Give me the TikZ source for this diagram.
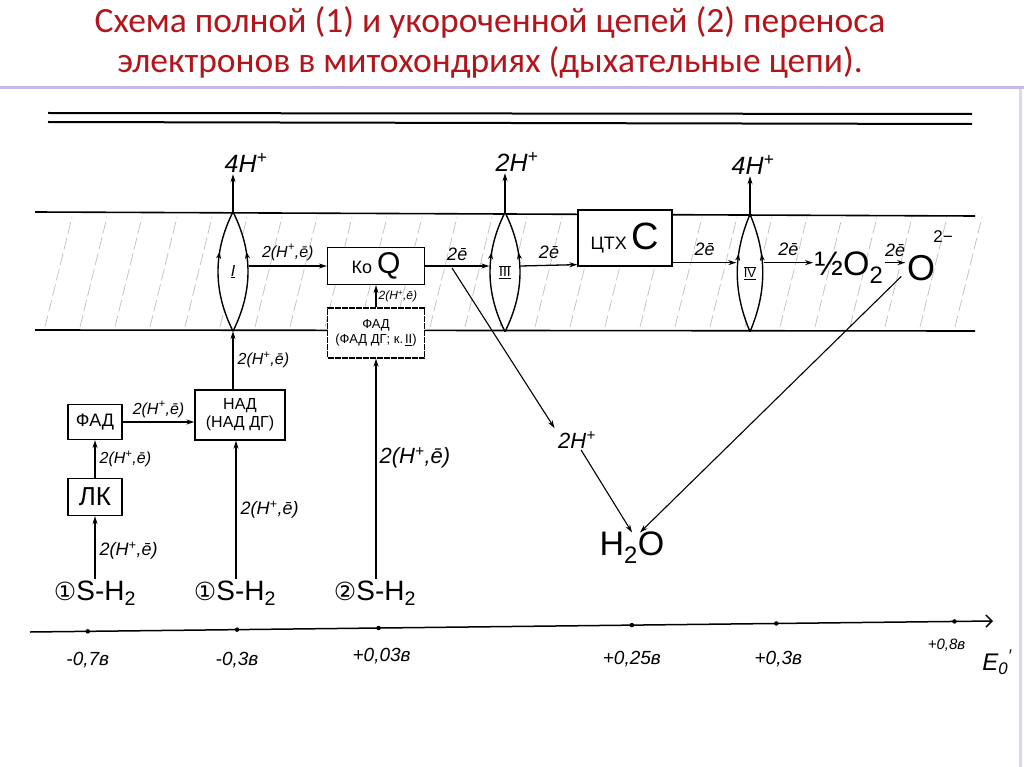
\documentclass[tikz,border=0pt]{standalone}
\usepackage{fontspec}
\setmainfont{Liberation Sans}
\newfontfamily\titlefont{Carlito}
\newfontfamily\dejavu{DejaVu Sans}
\usetikzlibrary{arrows.meta,decorations.markings,calc,positioning}
\definecolor{titlered}{RGB}{178,22,28}
\definecolor{lav}{RGB}{200,185,228}
\newcommand{\HpE}{2(H\textsuperscript{+},ē)}
\newcommand{\Hp}[1]{#1H\textsuperscript{+}}
\begin{document}
\begin{tikzpicture}[x=1pt,y=-1pt,line width=1.3pt,
  >={Stealth[length=8pt,width=5pt]},
  box/.style={draw,fill=white,line width=1.3pt,inner sep=1pt,align=center},
  lens/.style={minimum width=30pt,minimum height=118pt,inner sep=0pt},
  lensarc/.style={line width=1.4pt,postaction={decorate},
    decoration={markings,mark=at position 0.66 with {\arrow{Stealth[length=7pt,width=5pt]}}}},
  lbl/.style={font=\itshape\fontsize{16}{17}\selectfont,inner sep=1pt},
  blbl/.style={font=\itshape\fontsize{18}{19}\selectfont,inner sep=1pt},
  elbl/.style={font=\itshape\fontsize{18}{19}\selectfont,inner sep=1pt},
  hlbl/.style={font=\itshape\fontsize{25}{26}\selectfont,inner sep=1pt},
  slbl/.style={font=\fontsize{28}{30}\selectfont,inner sep=1pt},
  axlbl/.style={font=\itshape\fontsize{19}{20}\selectfont,inner sep=1pt},
  hatch/.style={gray!50,line width=0.7pt,dash pattern=on 12pt off 4pt},
  dot/.style={circle,fill,inner sep=0pt,minimum size=4.5pt}]
\useasboundingbox (0,0) rectangle (1024,767);
\fill[white] (0,0) rectangle (1024,767);
% title
\node[font=\titlefont\fontsize{35.5}{40}\selectfont,text=titlered,align=center] (title) at (490,42)
  {Схема полной (1) и укороченной цепей (2) переноса\\электронов в митохондриях (дыхательные цепи).};
\draw[lav,line width=3pt] (0,88) -- (1024,88);
\draw[lav!60,line width=3pt] (1020,89) -- (1020,767);
% outer double membrane lines
\draw[line width=2pt] (48,113) -- (972,114);
\draw[line width=2pt] (48,122) -- (972,124);
% inner membrane band
\foreach \x in {45,80,...,960} \draw[hatch] (\x,327) -- (\x+27,217);
\draw[line width=1.6pt] (35,212) -- (975,216);
\draw[line width=1.6pt] (35,330) -- (975,331);
% lenses (complexes)
\node[lens] (L1) at (233,271.5) {};
\node[lens] (L3) at (505,272) {};
\node[lens,minimum width=26pt,minimum height=116pt] (L4) at (750,273) {};
\fill[white] (L1.south) .. controls ($(L1.south)+(-20,-40)$) and ($(L1.north)+(-20,40)$) .. (L1.north)
  .. controls ($(L1.north)+(20,40)$) and ($(L1.south)+(20,-40)$) .. (L1.south);
\fill[white] (L3.south) .. controls ($(L3.south)+(-20,-40)$) and ($(L3.north)+(-20,40)$) .. (L3.north)
  .. controls ($(L3.north)+(20,40)$) and ($(L3.south)+(20,-40)$) .. (L3.south);
\fill[white] (L4.south) .. controls ($(L4.south)+(-17,-40)$) and ($(L4.north)+(-17,40)$) .. (L4.north)
  .. controls ($(L4.north)+(17,40)$) and ($(L4.south)+(17,-40)$) .. (L4.south);
\foreach \n/\w in {L1/20,L3/20,L4/17}{
  \draw[lensarc] (\n.south) .. controls ($(\n.south)+(-\w,-40)$) and ($(\n.north)+(-\w,40)$) .. (\n.north);
  \draw[lensarc] (\n.south) .. controls ($(\n.south)+(\w,-40)$) and ($(\n.north)+(\w,40)$) .. (\n.north);
}
\node[font=\fontsize{16}{16}\selectfont] (r1) at (L1) {$\underline{\mbox{\itshape I}}$};
\node[font=\fontsize{14}{14}\selectfont] (r3) at (L3) {$\overline{\underline{\mbox{III}}}$};
\node[font=\fontsize{13}{13}\selectfont] (r4) at (L4) {$\overline{\underline{\mbox{IV}}}$};
% proton labels above
\node[hlbl] (h1) at (246,163) {\Hp{4}};
\node[hlbl] (h3) at (517,162) {\Hp{2}};
\node[hlbl] (h4) at (753,165) {\Hp{4}};
\draw[->] (L1.north) -- (L1.north |- h1.south);
\draw[->] (L3.north) -- (L3.north |- h3.south);
\draw[->] (L4.north) -- (L4.north |- h4.south);
% boxes in membrane
\node[box,minimum width=97pt,minimum height=37pt,font=\fontsize{18}{18}\selectfont] (koq) at (376,266)
  {Ко {\fontsize{30}{30}\selectfont Q}};
\node[box,minimum width=97pt,minimum height=50pt,font=\fontsize{13}{15}\selectfont,dash pattern=on 6pt off 1pt] (fad2) at (376,333)
  {ФАД\\(ФАД ДГ; к.$\,\underline{\mbox{II}}$)};
\node[box,minimum width=94pt,minimum height=56pt,font=\fontsize{18}{18}\selectfont] (cytc) at (625,238)
  {ЦТХ {\fontsize{38}{38}\selectfont C}};
\node[font=\fontsize{34}{34}\selectfont,inner sep=1pt] (o2) at (849,268) {½O\textsubscript{2}};
\node[font=\fontsize{36}{36}\selectfont,inner sep=1pt] (o) at (921,268) {O};
\node[font=\fontsize{17}{17}\selectfont,inner sep=1pt] (om) at (943,237) {2−};
% membrane arrows
\draw[->] (L1.east |- koq.west) -- (koq.west) node[lbl,midway,above=4pt] (t1) {\HpE};
\draw[->] (fad2.north) -- (koq.south) node[font=\itshape\fontsize{12}{12}\selectfont,midway,right=1pt,inner sep=1pt] (t2) {\HpE};
\draw[->] (koq.east) -- (L3.west |- koq.east) node[elbl,midway,above=4pt] (t3) {2ē};
\draw[->] (L3.east |- koq.east) -- ([yshift=2pt]cytc.south west) node[elbl,midway,above=5pt] (t4) {2ē};
\coordinate (cr) at ([yshift=4pt]cytc.south east);
\draw[->] (cr) -- (L4.west |- cr) node[elbl,midway,above=5pt] (t5) {2ē};
\draw[->] (L4.east |- cr) -- (o2.west |- cr) node[elbl,midway,above=5pt] (t6) {2ē};
\draw[->] (o2.east |- cr) -- (o.west |- cr) node[elbl,midway,above=4pt] (t7) {2ē};
% water formation
\node[font=\itshape\fontsize{22}{24}\selectfont,inner sep=1pt] (h2p) at (577,440) {\Hp{2}};
\node[font=\fontsize{34}{36}\selectfont,inner sep=1pt] (h2o) at (632,548) {H\textsubscript{2}O};
\coordinate (split) at (452,268);
\draw[line width=1.1pt,->] (split) -- ([xshift=-2pt,yshift=2pt]h2p.north west);
\draw[line width=1.1pt,->] ([xshift=4pt]h2p.south) -- ([yshift=-2pt]h2o.north);
\draw[line width=1.1pt,->] ([xshift=-4pt,yshift=6pt]o.south west) -- ([xshift=8pt,yshift=-2pt]h2o.north);
% left substrate chains
\node[box,minimum width=54pt,minimum height=35pt,font=\fontsize{18}{18}\selectfont] (fad1) at (95,422) {ФАД};
\node[box,minimum width=54pt,minimum height=37pt,font=\fontsize{26}{26}\selectfont] (lk) at (95,497) {ЛК};
\node[box,minimum width=90pt,minimum height=50pt,font=\fontsize{16}{18}\selectfont] (nad) at (240,415) {НАД\\(НАД ДГ)};
\node[slbl] (s1) at (95,593) {{\dejavu\fontsize{25}{25}\selectfont ①}S-H\textsubscript{2}};
\node[slbl] (s1b) at (235,593) {{\dejavu\fontsize{25}{25}\selectfont ①}S-H\textsubscript{2}};
\node[slbl] (s2) at (375,593) {{\dejavu\fontsize{25}{25}\selectfont ②}S-H\textsubscript{2}};
\draw[->] (lk.south |- s1.north) -- (lk.south) node[blbl,pos=0.45,right=3pt] (t8) {\HpE};
\draw[->] (lk.north) -- (fad1.south) node[lbl,midway,right=3pt] (t9) {\HpE};
\draw[->] (fad1.east) -- (fad1.east -| nad.west) node[lbl,midway,above=3pt] (t10) {\HpE};
\draw[->] ([xshift=-4pt]nad.south |- s1b.north) -- ([xshift=-4pt]nad.south) node[blbl,pos=0.5,right=3pt] (t11) {\HpE};
\draw[->] (L1.south |- nad.north) -- (L1.south) node[lbl,midway,right=3pt] (t12) {\HpE};
\draw[->] (fad2.south |- s2.north) -- (fad2.south) node[font=\itshape\fontsize{22}{24}\selectfont,pos=0.55,right=2pt,inner sep=1pt] (t13) {\HpE};
% potential axis
\coordinate (ax0) at (30,632);
\coordinate (ax1) at (993,621);
\draw[line width=1.5pt,-{Straight Barb[length=6pt]}] (ax0) -- (ax1);
\node[dot] (p1) at ($(ax0)!0.060!(ax1)$) {};
\node[dot] (p2) at ($(ax0)!0.215!(ax1)$) {};
\node[dot] (p3) at ($(ax0)!0.362!(ax1)$) {};
\node[dot] (p4) at ($(ax0)!0.625!(ax1)$) {};
\node[dot] (p5) at ($(ax0)!0.775!(ax1)$) {};
\node[dot] (p6) at ($(ax0)!0.960!(ax1)$) {};
\node[axlbl] (v1) at (p1 |- 0,660) {-0,7в};
\node[axlbl] (v2) at (p2 |- 0,660) {-0,3в};
\node[axlbl] (v3) at ([xshift=3pt]p3 |- 0,656) {+0,03в};
\node[axlbl] (v4) at (p4 |- 0,659) {+0,25в};
\node[axlbl] (v5) at ([xshift=2pt]p5 |- 0,659) {+0,3в};
\node[font=\itshape\fontsize{15}{16}\selectfont,inner sep=1pt] (v6) at ([xshift=-8pt]p6 |- 0,645) {+0,8в};
\node[font=\itshape\fontsize{24}{24}\selectfont,inner sep=1pt] (ee) at (997,662) {E\textsubscript{0}\textsuperscript{′}};
\end{tikzpicture}
\end{document}
